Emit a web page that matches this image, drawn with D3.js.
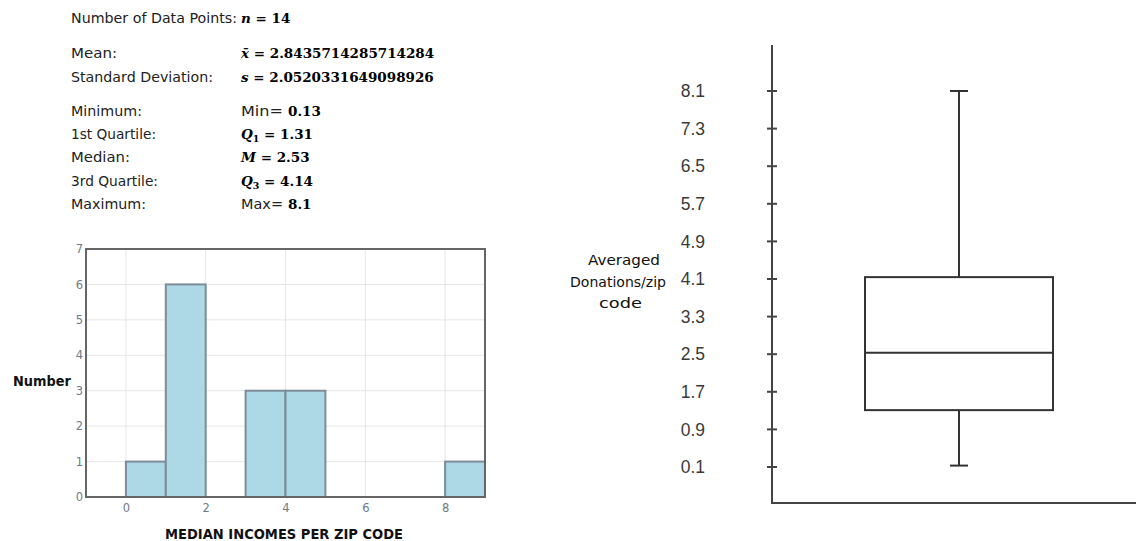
<!DOCTYPE html>
<html>
<head>
<meta charset="utf-8">
<script src="https://cdn.jsdelivr.net/npm/d3@7"></script>
<style>
  html, body { margin: 0; padding: 0; background: #fff; }
  svg { display: block; }
  .sans { font-family: "DejaVu Sans", sans-serif; }
  .math { font-family: "DejaVu Serif", serif; font-weight: bold; }
</style>
</head>
<body>
<svg id="chart" width="1136" height="541"></svg>
<script>
// Summary statistics shown in the text block
const statLabels = ["Mean:", "Standard Deviation:", "Minimum:", "1st Quartile:", "Median:", "3rd Quartile:", "Maximum:"];
const statSymbols = ["x̄", "s", "Min", "Q1", "M", "Q3", "Max"];
const statValues = ["2.8435714285714284", "2.0520331649098926", "0.13", "1.31", "2.53", "4.14", "8.1"];
const sampleSize = 14;

// Histogram of median incomes per zip code (bin width 1)
const binStarts = [0, 1, 2, 3, 4, 5, 6, 7, 8];
const binCounts = [1, 6, 0, 3, 3, 0, 0, 0, 1];
const histXTicks = [0, 2, 4, 6, 8];
const histYTicks = [0, 1, 2, 3, 4, 5, 6, 7];

// Box plot of averaged donations per zip code
const boxKeys = ["min", "q1", "median", "q3", "max"];
const boxValues = [0.13, 1.31, 2.53, 4.14, 8.1];
const boxYTicks = [0.1, 0.9, 1.7, 2.5, 3.3, 4.1, 4.9, 5.7, 6.5, 7.3, 8.1];

const svg = d3.select("#chart");

// ---------- statistics text ----------
const stats = svg.append("g");
const labelX = 71, valueX = 241;
const sansSize = 13.5, mathSize = 13.5;
// widths the labels are set to, so the column layout stays fixed
const labelWidths = [46, 142, 71, 85, 59, 87, 75];

stats.append("text").attr("class", "sans").attr("x", labelX).attr("y", 23)
  .attr("font-size", sansSize).attr("fill", "#222")
  .attr("textLength", 166).attr("lengthAdjust", "spacingAndGlyphs")
  .text("Number of Data Points:");
const nVal = stats.append("text").attr("x", valueX).attr("y", 23).attr("class", "math").attr("font-size", mathSize);
nVal.append("tspan").attr("font-style", "italic").text("n");
nVal.append("tspan").text(" = " + sampleSize);

const rowY = [58, 82, 116, 139, 162, 186, 209];
statLabels.forEach((lab, i) => {
  stats.append("text").attr("class", "sans").attr("x", labelX).attr("y", rowY[i])
    .attr("font-size", sansSize).attr("fill", "#222")
    .attr("textLength", labelWidths[i]).attr("lengthAdjust", "spacingAndGlyphs").text(lab);

  const sym = statSymbols[i];
  if (sym === "Min" || sym === "Max") {
    stats.append("text").attr("class", "sans").attr("x", valueX).attr("y", rowY[i])
      .attr("font-size", sansSize).attr("fill", "#222")
      .attr("textLength", 42).attr("lengthAdjust", "spacingAndGlyphs").text(sym + "=");
    stats.append("text").attr("class", "math").attr("x", valueX + 47).attr("y", rowY[i])
      .attr("font-size", mathSize).text(statValues[i]);
  } else {
    const t = stats.append("text").attr("x", valueX).attr("y", rowY[i]).attr("font-size", mathSize);
    if (sym === "Q1" || sym === "Q3") {
      t.append("tspan").attr("class", "math").attr("font-style", "italic").text("Q");
      t.append("tspan").attr("class", "math").attr("font-size", 9.5).attr("dy", 3).text(sym[1]);
      t.append("tspan").attr("class", "math").attr("dy", -3).text(" = " + statValues[i]);
    } else {
      t.append("tspan").attr("class", "math").attr("font-style", "italic").text(sym);
      t.append("tspan").attr("class", "math").text(" = " + statValues[i]);
    }
  }
});

// ---------- histogram ----------
const hx = d3.scaleLinear().domain([-1, 9]).range([86, 485]);
const hy = d3.scaleLinear().domain([0, 7]).range([497, 249]);
const hist = svg.append("g");

// grid
hist.append("g").selectAll("line").data(histYTicks).join("line")
  .attr("x1", hx(-1)).attr("x2", hx(9))
  .attr("y1", d => hy(d)).attr("y2", d => hy(d))
  .attr("stroke", "#e6e6e6").attr("stroke-width", 1);
hist.append("g").selectAll("line").data(histXTicks).join("line")
  .attr("x1", d => hx(d)).attr("x2", d => hx(d))
  .attr("y1", hy(0)).attr("y2", hy(7))
  .attr("stroke", "#e6e6e6").attr("stroke-width", 1);

// bars
hist.append("g").selectAll("rect").data(binStarts).join("rect")
  .attr("x", d => hx(d))
  .attr("width", d => hx(d + 1) - hx(d))
  .attr("y", (d, i) => hy(binCounts[i]))
  .attr("height", (d, i) => hy(0) - hy(binCounts[i]))
  .attr("fill", "#add8e6")
  .attr("stroke", "#7d8c98").attr("stroke-width", 2);

// frame
hist.append("rect")
  .attr("x", hx(-1)).attr("y", hy(7))
  .attr("width", hx(9) - hx(-1)).attr("height", hy(0) - hy(7))
  .attr("fill", "none").attr("stroke", "#666").attr("stroke-width", 2);

// axes
const hAxisY = d3.axisLeft(hy).tickValues(histYTicks).tickSize(0).tickPadding(3).tickFormat(d3.format("d"));
hist.append("g").attr("transform", `translate(${hx(-1)},0)`).call(hAxisY)
  .call(g => g.select(".domain").remove())
  .call(g => g.selectAll("text").attr("fill", "#707a86").attr("font-size", 11.5).attr("font-family", "DejaVu Sans, sans-serif"));
const hAxisX = d3.axisBottom(hx).tickValues(histXTicks).tickSize(0).tickPadding(7).tickFormat(d3.format("d"));
hist.append("g").attr("transform", `translate(0,${hy(0)})`).call(hAxisX)
  .call(g => g.select(".domain").remove())
  .call(g => g.selectAll("text").attr("fill", "#707a86").attr("font-size", 11.5).attr("font-family", "DejaVu Sans, sans-serif"));

hist.append("text").attr("class", "sans").attr("x", 13).attr("y", 386)
  .attr("font-size", 13.5).attr("font-weight", "bold").attr("fill", "#111")
  .attr("textLength", 58).attr("lengthAdjust", "spacingAndGlyphs")
  .text("Number");
hist.append("text").attr("class", "sans").attr("x", 165).attr("y", 539)
  .attr("font-size", 14).attr("font-weight", "bold").attr("fill", "#111")
  .attr("textLength", 238).attr("lengthAdjust", "spacingAndGlyphs")
  .text("MEDIAN INCOMES PER ZIP CODE");

// ---------- box plot ----------
const by = d3.scaleLinear().domain([0.1, 8.1]).range([467, 91]);
const bx = d3.scaleBand().domain(["donations"]).range([865, 1053]);
const box = svg.append("g");
const v = Object.fromEntries(boxKeys.map((k, i) => [k, boxValues[i]]));
const axisX = 772;

// axis frame
box.append("line").attr("x1", axisX).attr("x2", axisX).attr("y1", 45).attr("y2", 503)
  .attr("stroke", "#444").attr("stroke-width", 2);
box.append("line").attr("x1", axisX - 1).attr("x2", 1136).attr("y1", 503).attr("y2", 503)
  .attr("stroke", "#444").attr("stroke-width", 2);

const bAxis = d3.axisLeft(by).tickValues(boxYTicks).tickSize(0).tickPadding(67).tickFormat(d3.format(".1f"));
box.append("g").attr("transform", `translate(${axisX},0)`).call(bAxis)
  .call(g => g.select(".domain").remove())
  .call(g => g.selectAll("text").attr("fill", "#3a3a3a").attr("font-size", 17.5).attr("font-family", "Liberation Sans, Arial, sans-serif"));
box.append("g").selectAll("line").data(boxYTicks).join("line")
  .attr("x1", axisX - 5).attr("x2", axisX + 5)
  .attr("y1", d => by(d)).attr("y2", d => by(d))
  .attr("stroke", "#444").attr("stroke-width", 2);

const cx = bx("donations") + bx.bandwidth() / 2;
const stroke = "#333";
// whiskers
box.append("line").attr("x1", cx).attr("x2", cx).attr("y1", by(v.max)).attr("y2", by(v.q3))
  .attr("stroke", stroke).attr("stroke-width", 2);
box.append("line").attr("x1", cx).attr("x2", cx).attr("y1", by(v.q1)).attr("y2", by(v.min))
  .attr("stroke", stroke).attr("stroke-width", 2);
// caps
[v.max, v.min].forEach(val => {
  box.append("line").attr("x1", cx - 9).attr("x2", cx + 9).attr("y1", by(val)).attr("y2", by(val))
    .attr("stroke", stroke).attr("stroke-width", 2);
});
// box and median
box.append("rect").attr("x", bx("donations")).attr("width", bx.bandwidth())
  .attr("y", by(v.q3)).attr("height", by(v.q1) - by(v.q3))
  .attr("fill", "#fff").attr("stroke", stroke).attr("stroke-width", 2);
box.append("line").attr("x1", bx("donations")).attr("x2", bx("donations") + bx.bandwidth())
  .attr("y1", by(v.median)).attr("y2", by(v.median))
  .attr("stroke", stroke).attr("stroke-width", 2);

// axis title, three lines
const titleLines = ["Averaged", "Donations/zip", "code"];
const titleX = [588, 570, 599];
const titleW = [72, 96, 43];
const titleY = [265, 286.5, 308];
titleLines.forEach((line, i) => {
  box.append("text").attr("class", "sans").attr("x", titleX[i]).attr("y", titleY[i])
    .attr("font-size", 13.5).attr("fill", "#111")
    .attr("textLength", titleW[i]).attr("lengthAdjust", "spacingAndGlyphs")
    .text(line);
});
</script>
</body>
</html>
